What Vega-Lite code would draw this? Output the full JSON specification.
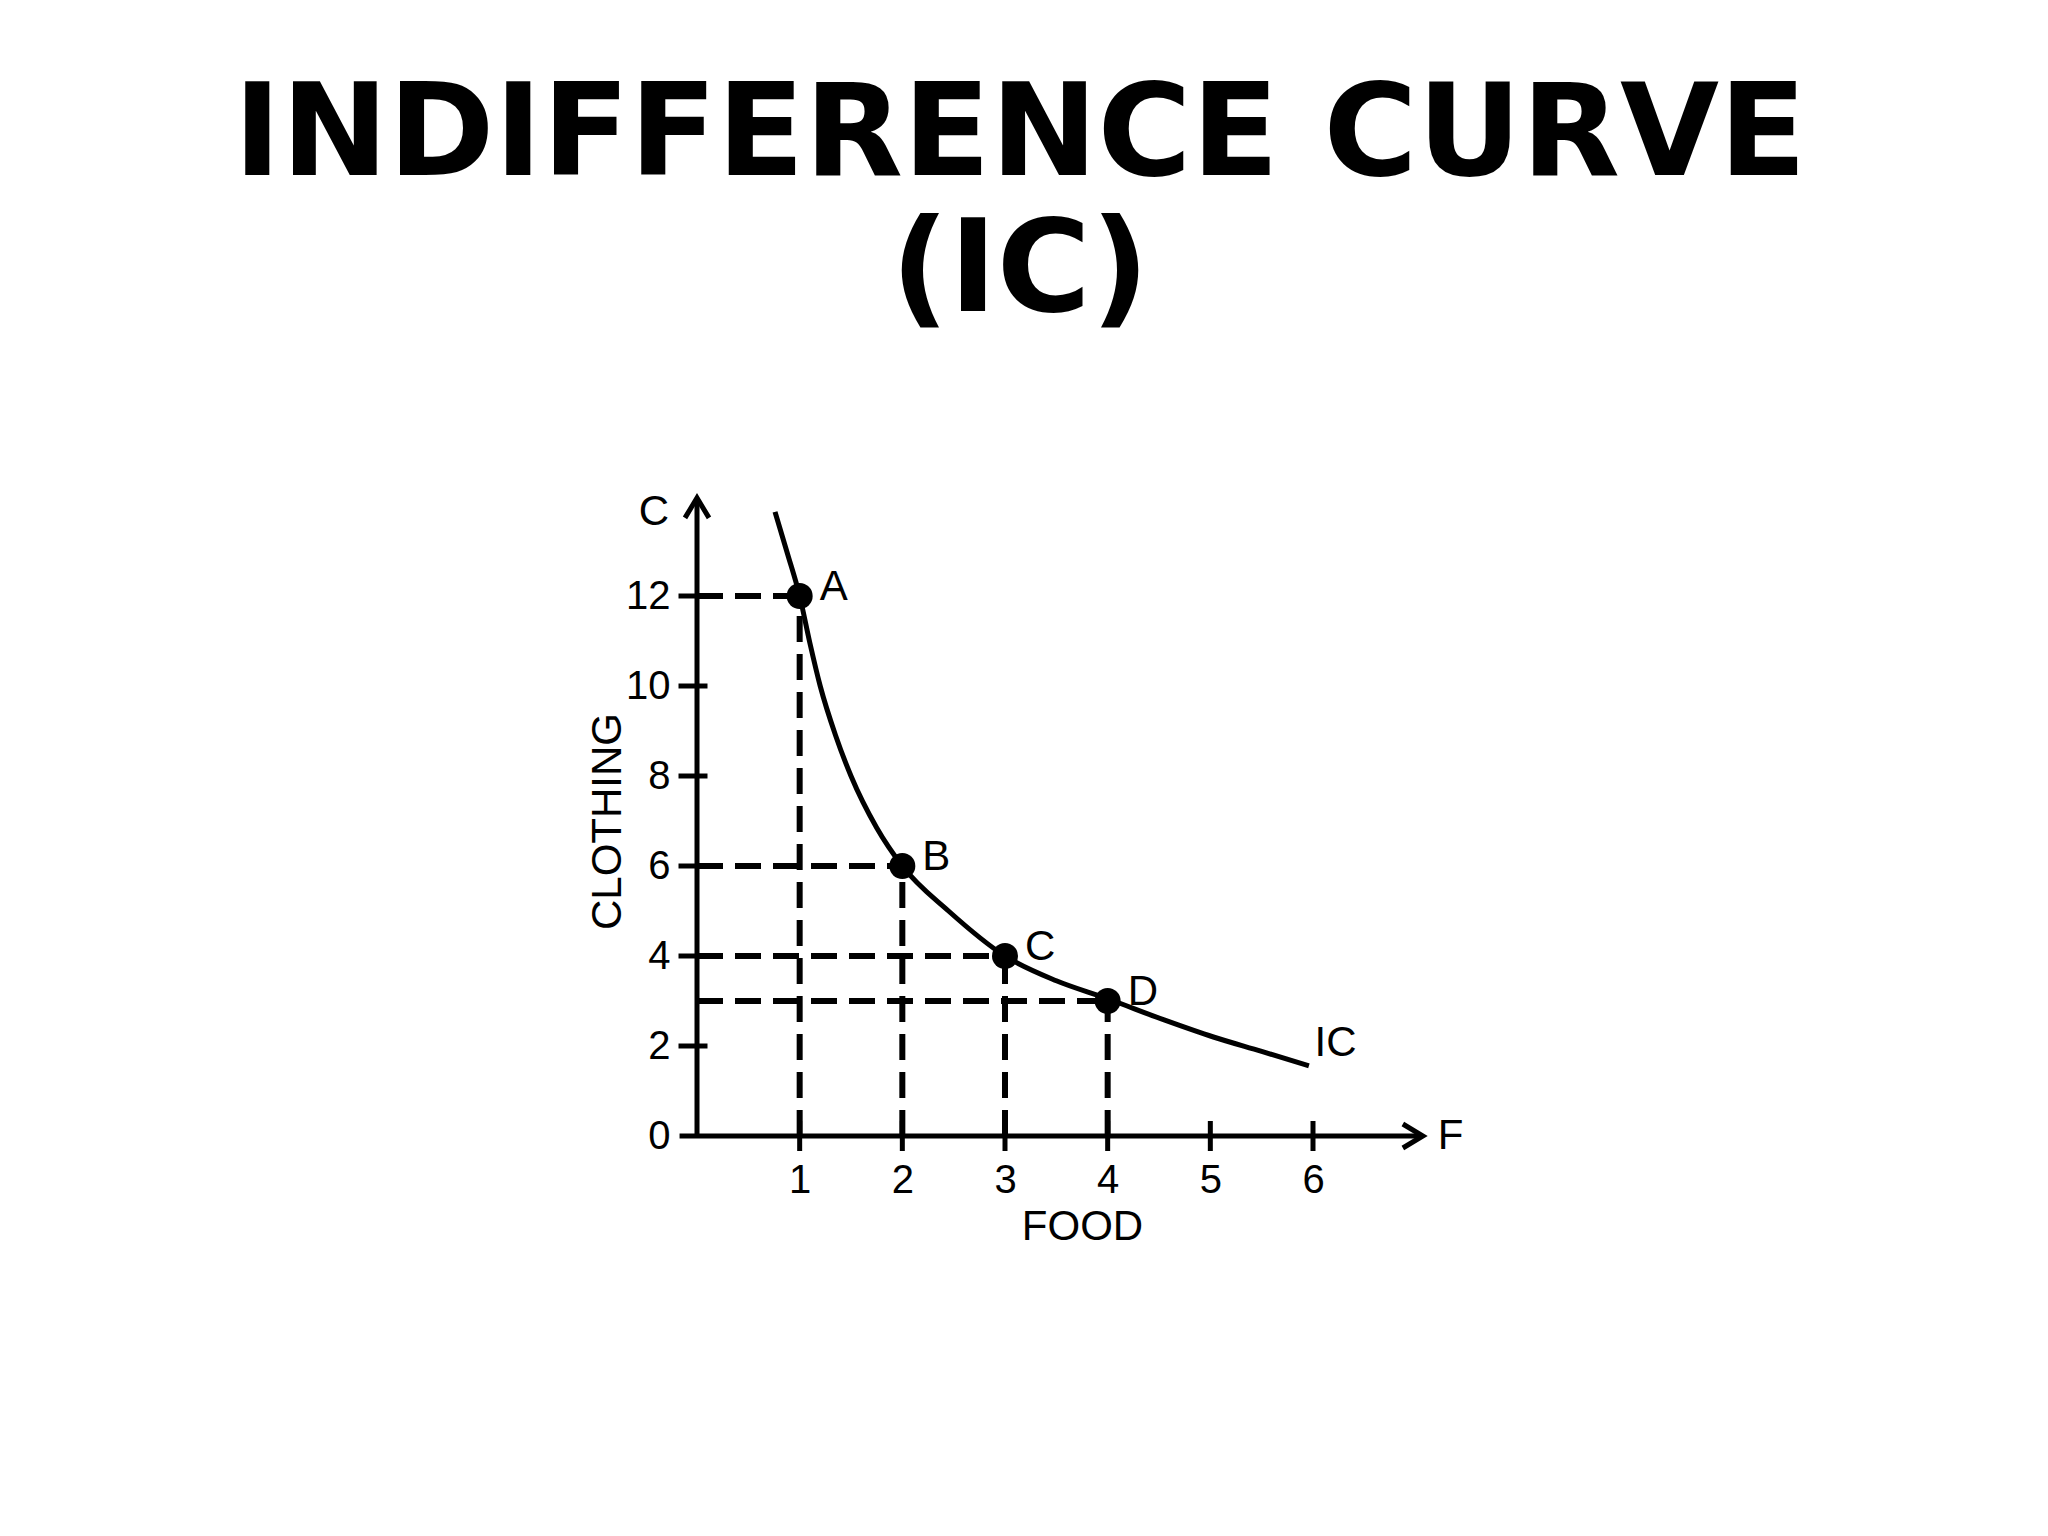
{
  "$schema": "https://vega.github.io/schema/vega-lite/v6.json",
  "autosize": "none",
  "width": 770,
  "height": 630,
  "padding": {"left": 697, "top": 506, "right": 581, "bottom": 400},
  "background": "white",
  "title": {
    "text": ["INDIFFERENCE CURVE", "(IC)"],
    "font": "DejaVu Sans",
    "fontSize": 128,
    "fontWeight": "bold",
    "color": "black",
    "anchor": "middle",
    "dx": -62,
    "lineHeight": 136,
    "offset": 150
  },
  "datasets": {
    "points": [
      {"x": 1, "y": 12, "label": "A"},
      {"x": 2, "y": 6, "label": "B"},
      {"x": 3, "y": 4, "label": "C"},
      {"x": 4, "y": 3, "label": "D"}
    ],
    "curve": [
      {"x": 0.76, "y": 13.87},
      {"x": 0.88, "y": 12.95},
      {"x": 1.0, "y": 12.0},
      {"x": 1.1, "y": 10.95},
      {"x": 1.2, "y": 10.0},
      {"x": 1.35, "y": 8.9},
      {"x": 1.5, "y": 8.0},
      {"x": 1.75, "y": 6.85},
      {"x": 2.0, "y": 6.0},
      {"x": 2.45, "y": 5.0},
      {"x": 3.0, "y": 4.0},
      {"x": 3.5, "y": 3.45},
      {"x": 4.0, "y": 3.05},
      {"x": 4.55, "y": 2.58},
      {"x": 5.03, "y": 2.2},
      {"x": 5.5, "y": 1.88},
      {"x": 5.96, "y": 1.56}
    ],
    "axislines": [
      {"x": 0, "y": 0, "x2": 0, "y2": 14.18},
      {"x": -0.17, "y": 0, "x2": 7.07, "y2": 0}
    ],
    "arrows": [
      {"x": 0, "y": 14.18, "dir": "up"},
      {"x": 7.07, "y": 0, "dir": "right"}
    ],
    "yticks": [{"x": 0, "y": 2}, {"x": 0, "y": 4}, {"x": 0, "y": 6}, {"x": 0, "y": 8}, {"x": 0, "y": 10}, {"x": 0, "y": 12}],
    "xticks": [{"x": 1, "y": 0}, {"x": 2, "y": 0}, {"x": 3, "y": 0}, {"x": 4, "y": 0}, {"x": 5, "y": 0}, {"x": 6, "y": 0}],
    "notes": [
      {"x": -0.42, "y": 13.87, "label": "C"},
      {"x": 7.34, "y": 0, "label": "F"},
      {"x": 6.22, "y": 2.07, "label": "IC"}
    ]
  },
  "encoding": {
    "x": {
      "field": "x",
      "type": "quantitative",
      "scale": {"domain": [0, 7.5], "nice": false, "zero": false},
      "axis": {"values": [1, 2, 3, 4, 5, 6], "title": "FOOD", "labelPadding": 24, "titlePadding": 6}
    },
    "y": {
      "field": "y",
      "type": "quantitative",
      "scale": {"domain": [0, 14], "nice": false, "zero": false},
      "axis": {"values": [0, 2, 4, 6, 8, 10, 12], "title": "CLOTHING", "labelPadding": 27, "titlePadding": -4}
    }
  },
  "layer": [
    {
      "data": {"name": "points"},
      "mark": {"type": "rule", "strokeDash": [26, 12], "strokeWidth": 6, "color": "black"},
      "encoding": {"x": {"datum": 0}, "x2": {"field": "x"}}
    },
    {
      "data": {"name": "points"},
      "mark": {"type": "rule", "strokeDash": [26, 12], "strokeWidth": 6, "color": "black"},
      "encoding": {"y": {"datum": 0}, "y2": {"field": "y"}}
    },
    {
      "data": {"name": "axislines"},
      "mark": {"type": "rule", "strokeWidth": 5, "color": "black"},
      "encoding": {"x2": {"field": "x2"}, "y2": {"field": "y2"}}
    },
    {
      "data": {"name": "arrows"},
      "mark": {"type": "point", "filled": false, "strokeWidth": 5, "color": "black", "size": 1600, "opacity": 1, "strokeJoin": "miter"},
      "encoding": {
        "shape": {
          "field": "dir",
          "type": "nominal",
          "scale": {"domain": ["up", "right"], "range": ["M-0.6,1L0,0L0.6,1", "M-1,-0.6L0,0L-1,0.6"]},
          "legend": null
        }
      }
    },
    {
      "data": {"name": "yticks"},
      "mark": {"type": "tick", "orient": "horizontal", "size": 29, "thickness": 5, "color": "black", "opacity": 1, "xOffset": -4}
    },
    {
      "data": {"name": "xticks"},
      "mark": {"type": "tick", "orient": "vertical", "size": 30, "thickness": 5, "color": "black", "opacity": 1}
    },
    {
      "data": {"name": "curve"},
      "mark": {"type": "line", "interpolate": "monotone", "strokeWidth": 5, "color": "black"}
    },
    {
      "data": {"name": "points"},
      "mark": {"type": "point", "shape": "circle", "filled": true, "size": 676, "color": "black", "opacity": 1}
    },
    {
      "data": {"name": "points"},
      "mark": {"type": "text", "align": "left", "baseline": "middle", "dx": 20, "dy": -9, "fontSize": 42, "font": "Liberation Sans", "color": "black"},
      "encoding": {"text": {"field": "label"}}
    },
    {
      "data": {"name": "notes"},
      "mark": {"type": "text", "align": "center", "baseline": "middle", "fontSize": 42, "font": "Liberation Sans", "color": "black"},
      "encoding": {"text": {"field": "label"}}
    }
  ],
  "config": {
    "view": {"stroke": null},
    "axis": {
      "domain": false,
      "ticks": false,
      "tickSize": 0,
      "grid": false,
      "labelFont": "Liberation Sans",
      "labelFontSize": 40,
      "labelColor": "black",
      "titleFont": "Liberation Sans",
      "titleFontSize": 42,
      "titleFontWeight": "normal",
      "titleColor": "black"
    }
  }
}
